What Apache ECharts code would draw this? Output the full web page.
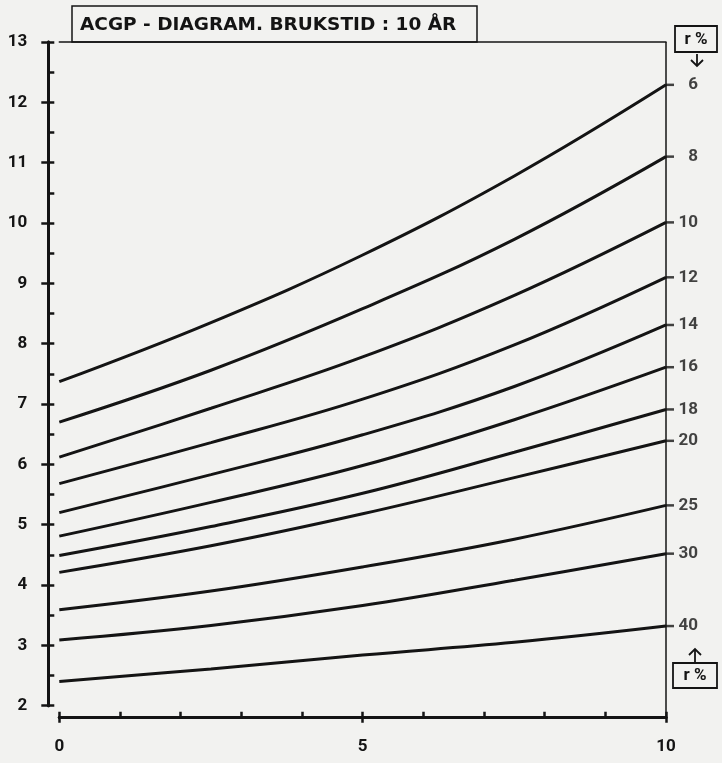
<!DOCTYPE html>
<html>
<head>
<meta charset="utf-8">
<script src="https://cdn.jsdelivr.net/npm/echarts@6/dist/echarts.min.js"></script>
<style>
  html, body { margin: 0; padding: 0; background: #f2f2f0; }
  #chart { width: 722px; height: 763px; }
</style>
</head>
<body>
<div id="chart"></div>
<script>
// ACGP diagram, service life 10 years: one curve per interest rate r %
const xValues = [0, 2.5, 5, 7.5, 10];
const rateLabels = ['6', '8', '10', '12', '14', '16', '18', '20', '25', '30', '40'];

const r6  = [7.37, 8.35, 9.47, 10.78, 12.29];
const r8  = [6.70, 7.56, 8.58, 9.73, 11.10];
const r10 = [6.12, 6.93, 7.78, 8.80, 10.01];
const r12 = [5.68, 6.36, 7.08, 7.98, 9.10];
const r14 = [5.20, 5.83, 6.49, 7.29, 8.31];
const r16 = [4.81, 5.37, 5.98, 6.74, 7.61];
const r18 = [4.49, 4.97, 5.52, 6.20, 6.91];
const r20 = [4.21, 4.65, 5.18, 5.78, 6.39];
const r25 = [3.59, 3.90, 4.30, 4.76, 5.32];
const r30 = [3.09, 3.33, 3.66, 4.08, 4.52];
const r40 = [2.40, 2.61, 2.84, 3.05, 3.32];

const curves = [r6, r8, r10, r12, r14, r16, r18, r20, r25, r30, r40];

const yTicks = { min: 2, max: 13, step: 1 };
const xTicks = { min: 0, max: 10, major: 5, minor: 1 };

const INK = '#141414';
const NUM_FONT = 'Roboto';
const TITLE_FONT = '"DejaVu Sans"';
const AXIS_OFFSET_Y = 11;   // y axis drawn left of x = 0
const AXIS_OFFSET_X = 12;   // x axis drawn below y = 2

const chart = echarts.init(document.getElementById('chart'), null, { renderer: 'canvas' });

const lineSeries = curves.map((vals, i) => ({
  name: rateLabels[i],
  type: 'line',
  xAxisIndex: 0,
  yAxisIndex: 0,
  data: xValues.map((x, k) => [x, vals[k]]),
  smooth: 0.4,
  symbol: 'none',
  lineStyle: { color: INK, width: 3 },
  silent: true,
  z: 3
}));

// small tick plus rate label at the right end of each curve
const endMarks = {
  type: 'scatter',
  xAxisIndex: 0,
  yAxisIndex: 0,
  data: curves.map((vals, i) => ({ name: rateLabels[i], value: [xValues[xValues.length - 1], vals[vals.length - 1]] })),
  symbol: 'rect',
  symbolSize: [8, 2.5],
  symbolOffset: [4, 0],
  itemStyle: { color: INK },
  label: {
    show: true,
    position: 'right',
    distance: 2,
    formatter: p => '{v|' + p.name + '}',
    rich: { v: { width: 22, align: 'right', fontFamily: NUM_FONT, fontWeight: 'bold', fontSize: 17, color: INK } }
  },
  silent: true,
  z: 4
};

const baseY = {
  type: 'value',
  min: yTicks.min, max: yTicks.max, interval: yTicks.step,
  position: 'left',
  offset: AXIS_OFFSET_Y,
  splitLine: { show: false },
  axisLine: { show: true, onZero: false, lineStyle: { color: INK, width: 3 } }
};
const baseX = {
  type: 'value',
  min: xTicks.min, max: xTicks.max,
  position: 'bottom',
  offset: AXIS_OFFSET_X,
  splitLine: { show: false },
  axisLine: { show: true, onZero: false, lineStyle: { color: INK, width: 3 } }
};

chart.setOption({
  backgroundColor: '#f2f2f0',
  animation: false,
  grid: { left: 59.3, right: 56, top: 42, bottom: 57.3, containLabel: false },
  xAxis: [
    Object.assign({}, baseX, {
      interval: xTicks.major,
      axisTick: { show: true, inside: false, length: 5, lineStyle: { color: INK, width: 2.5 } },
      axisLabel: { margin: 21, fontFamily: NUM_FONT, fontWeight: 'bold', fontSize: 17, color: INK }
    }),
    Object.assign({}, baseX, {
      interval: xTicks.minor,
      axisTick: { show: true, inside: true, length: 6, lineStyle: { color: INK, width: 2.5 } },
      axisLabel: { show: false }
    }),
    {
      type: 'value', min: xTicks.min, max: xTicks.max, position: 'top',
      splitLine: { show: false }, axisTick: { show: false }, axisLabel: { show: false },
      axisLine: { show: true, onZero: false, lineStyle: { color: INK, width: 1.5 } }
    }
  ],
  yAxis: [
    Object.assign({}, baseY, {
      axisTick: { show: true, inside: false, length: 7, lineStyle: { color: INK, width: 2.5 } },
      axisLabel: { margin: 21, fontFamily: NUM_FONT, fontWeight: 'bold', fontSize: 17, color: INK }
    }),
    Object.assign({}, baseY, {
      axisTick: { show: true, inside: true, length: 6, lineStyle: { color: INK, width: 2.5 } },
      minorTick: { show: true, splitNumber: 2, length: 6, lineStyle: { color: INK, width: 2.5 } },
      axisLabel: { show: false }
    })
  ],
  series: lineSeries.concat([endMarks])
});

// frame line on the right, title box and the two "r %" keys
const topRight = chart.convertToPixel({ gridIndex: 0 }, [xTicks.max, yTicks.max]);
const bottomRight = chart.convertToPixel({ gridIndex: 0 }, [xTicks.max, yTicks.min]);
const rx = topRight[0];

chart.setOption({
  graphic: [
    {
      type: 'line', silent: true, z: 5,
      shape: { x1: rx, y1: topRight[1], x2: rx, y2: bottomRight[1] + AXIS_OFFSET_X },
      style: { stroke: INK, lineWidth: 1.5 }
    },
    {
      type: 'rect', silent: true, z: 5,
      shape: { x: 72, y: 6, width: 405, height: 36 },
      style: { fill: 'none', stroke: INK, lineWidth: 1.5 }
    },
    {
      type: 'text', silent: true, z: 6, x: 80, y: 25,
      style: { text: 'ACGP - DIAGRAM. BRUKSTID : 10 ÅR', font: 'bold 18.5px ' + TITLE_FONT, fill: INK, verticalAlign: 'middle' }
    },
    {
      type: 'rect', silent: true, z: 5,
      shape: { x: 675, y: 26, width: 42, height: 26 },
      style: { fill: 'none', stroke: INK, lineWidth: 1.8 }
    },
    {
      type: 'text', silent: true, z: 6, x: 696, y: 39.5,
      style: { text: 'r %', font: 'bold 17px ' + NUM_FONT, fill: INK, align: 'center', verticalAlign: 'middle' }
    },
    {
      type: 'polyline', silent: true, z: 5,
      shape: { points: [[697, 54], [697, 66]] },
      style: { stroke: INK, lineWidth: 1.8, fill: 'none' }
    },
    {
      type: 'polyline', silent: true, z: 5,
      shape: { points: [[691, 60], [697, 66], [703, 60]] },
      style: { stroke: INK, lineWidth: 1.8, fill: 'none' }
    },
    {
      type: 'rect', silent: true, z: 5,
      shape: { x: 673, y: 663, width: 44, height: 25 },
      style: { fill: 'none', stroke: INK, lineWidth: 1.8 }
    },
    {
      type: 'text', silent: true, z: 6, x: 695, y: 676,
      style: { text: 'r %', font: 'bold 17px ' + NUM_FONT, fill: INK, align: 'center', verticalAlign: 'middle' }
    },
    {
      type: 'polyline', silent: true, z: 5,
      shape: { points: [[695, 649], [695, 663]] },
      style: { stroke: INK, lineWidth: 1.8, fill: 'none' }
    },
    {
      type: 'polyline', silent: true, z: 5,
      shape: { points: [[689, 655], [695, 649], [701, 655]] },
      style: { stroke: INK, lineWidth: 1.8, fill: 'none' }
    }
  ]
});
</script>
</body>
</html>
